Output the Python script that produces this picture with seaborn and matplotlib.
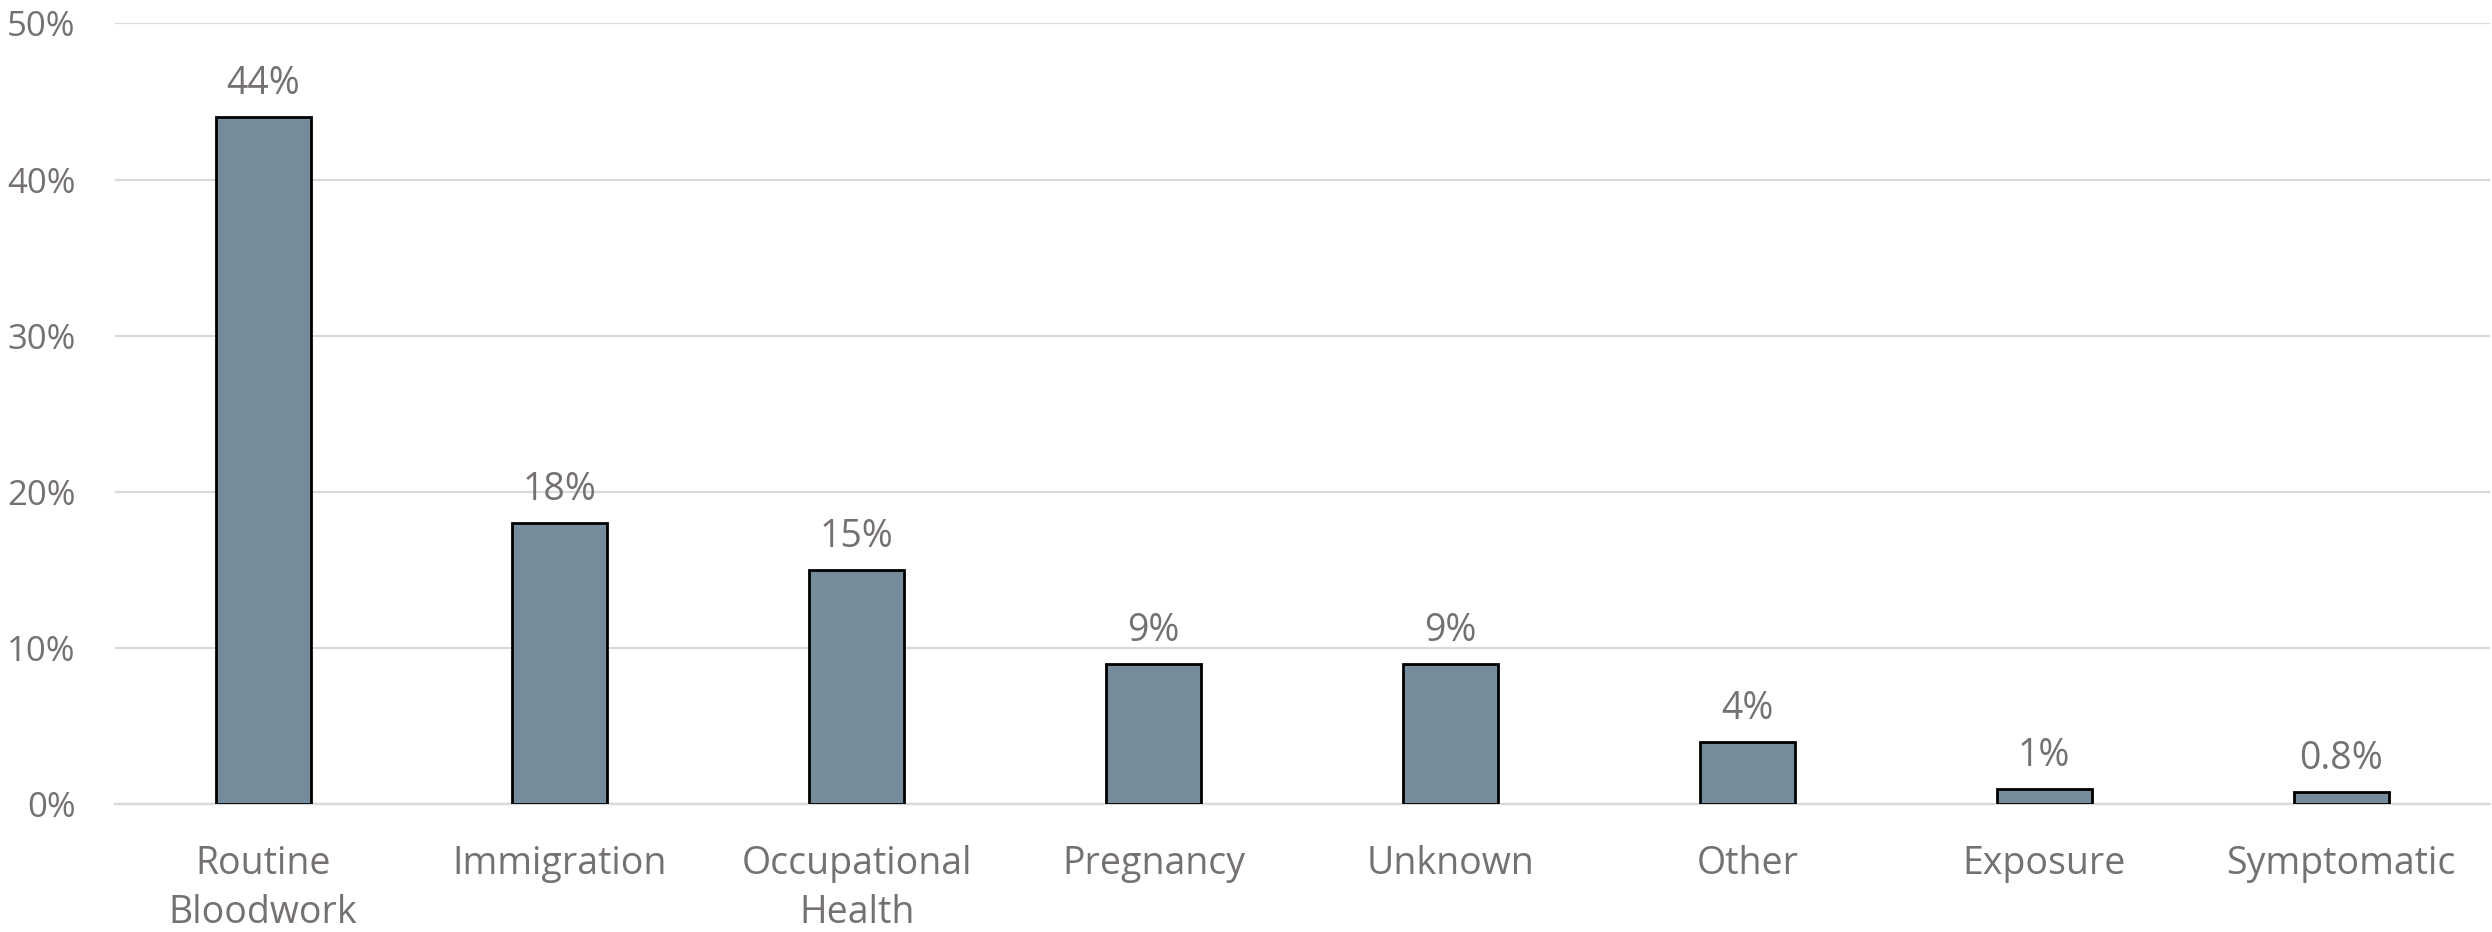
import matplotlib
matplotlib.use("Agg")
import matplotlib.pyplot as plt
import seaborn as sns
import pandas as pd

# values
categories = ["Routine\nBloodwork", "Immigration", "Occupational\nHealth", "Pregnancy",
              "Unknown", "Other", "Exposure", "Symptomatic"]
shares = [44, 18, 15, 9, 9, 4, 1, 0.8]
share_labels = ["44%", "18%", "15%", "9%", "9%", "4%", "1%", "0.8%"]
yticks = [0, 10, 20, 30, 40, 50]

df = pd.DataFrame({"reason": categories, "share": shares})

sns.set_style("white")
plt.rcParams["font.family"] = ["Open Sans", "DejaVu Sans"]
txt = "#767171"

fig = plt.figure(figsize=(24.92, 9.32), dpi=100)
ax = fig.add_axes([0.046, 0.137, 0.953, 0.838])

sns.barplot(data=df, x="reason", y="share", color="#778C9B", width=0.32,
            edgecolor="black", linewidth=2, saturation=1, ax=ax, zorder=3)

for i, lab in enumerate(share_labels):
    ax.annotate(lab, (i, shares[i]), xytext=(0, 10), textcoords="offset points",
                ha="center", va="bottom", fontsize=27, color=txt)

ax.set_ylim(0, 50)
ax.set_xlim(-0.5, 7.5)
ax.set_yticks(yticks)
ax.set_yticklabels([f"{t}%" for t in yticks])
ax.yaxis.grid(True, color="#D9D9D9", linewidth=1.6, zorder=0)
ax.set_axisbelow(True)
for s in ["left", "right", "top"]:
    ax.spines[s].set_visible(False)
ax.spines["bottom"].set_color("#D9D9D9")
ax.spines["bottom"].set_linewidth(1.6)
ax.tick_params(axis="y", length=0, labelsize=25, labelcolor=txt, pad=28)
ax.tick_params(axis="x", length=0, labelsize=27, labelcolor=txt, pad=29)
for t in ax.get_xticklabels():
    t.set_linespacing(1.4)
ax.set_xlabel("")
ax.set_ylabel("")

fig.savefig("out.png", dpi=100)
